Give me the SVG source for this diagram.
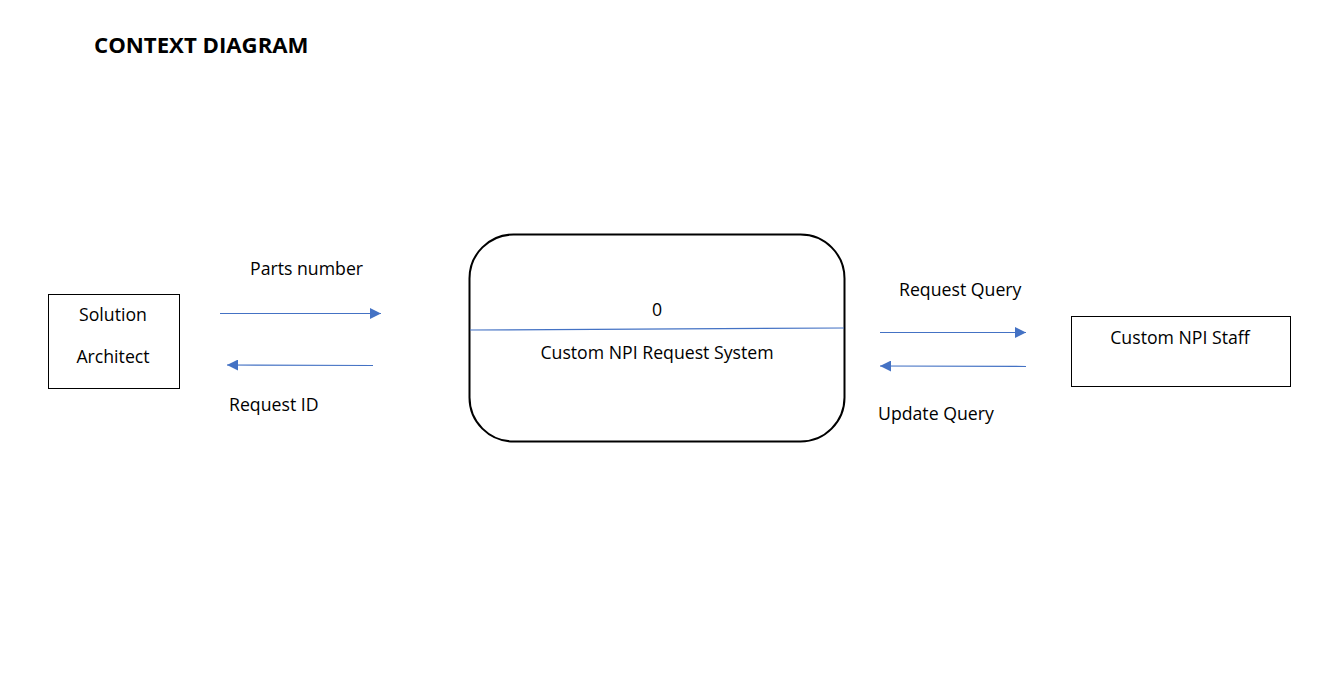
<svg xmlns="http://www.w3.org/2000/svg" width="1338" height="682" viewBox="0 0 1338 682">
<style>
text{font-family:"Open Sans","Noto Sans",sans-serif;font-size:17.7px;fill:#000}
.title{font-weight:bold;font-size:22.2px}
.box{fill:#fff;stroke:#000;stroke-width:1}
.flow{stroke:#4472C4;stroke-width:1.2;fill:none}
</style>
<defs>
<marker id="ah" viewBox="0 0 10 10" refX="10" refY="5" markerWidth="11" markerHeight="11" markerUnits="userSpaceOnUse" orient="auto">
<path d="M0,0 L10,5 L0,10 z" fill="#4472C4"/>
</marker>
</defs>
<rect width="1338" height="682" fill="#fff"/>
<text class="title" x="94" y="53">CONTEXT DIAGRAM</text>
<g id="solution-architect">
<rect class="box" x="48.5" y="294.5" width="131" height="94"/>
<text x="113" y="321" text-anchor="middle">Solution</text>
<text x="113" y="363" text-anchor="middle">Architect</text>
</g>
<g id="process-0">
<rect x="469.5" y="234.5" width="375" height="207" rx="44" ry="44" fill="#fff" stroke="#000" stroke-width="2"/>
<line x1="470" y1="330" x2="844" y2="328" stroke="#4472C4" stroke-width="1.2"/>
<text x="657" y="316" text-anchor="middle">0</text>
<text x="657" y="359" text-anchor="middle">Custom NPI Request System</text>
</g>
<g id="custom-npi-staff">
<rect class="box" x="1071.5" y="316.5" width="219" height="70"/>
<text x="1180" y="344" text-anchor="middle">Custom NPI Staff</text>
</g>
<g id="connectors">
<line class="flow" x1="220" y1="313.5" x2="381" y2="313.5" marker-end="url(#ah)"/>
<text x="250" y="275">Parts number</text>
<line class="flow" x1="373" y1="365.5" x2="227" y2="365" marker-end="url(#ah)"/>
<text x="229" y="411">Request ID</text>
<line class="flow" x1="880" y1="332.5" x2="1026" y2="332.5" marker-end="url(#ah)"/>
<text x="899" y="296">Request Query</text>
<line class="flow" x1="1026" y1="366.5" x2="880" y2="366" marker-end="url(#ah)"/>
<text x="878" y="420">Update Query</text>
</g>
</svg>
